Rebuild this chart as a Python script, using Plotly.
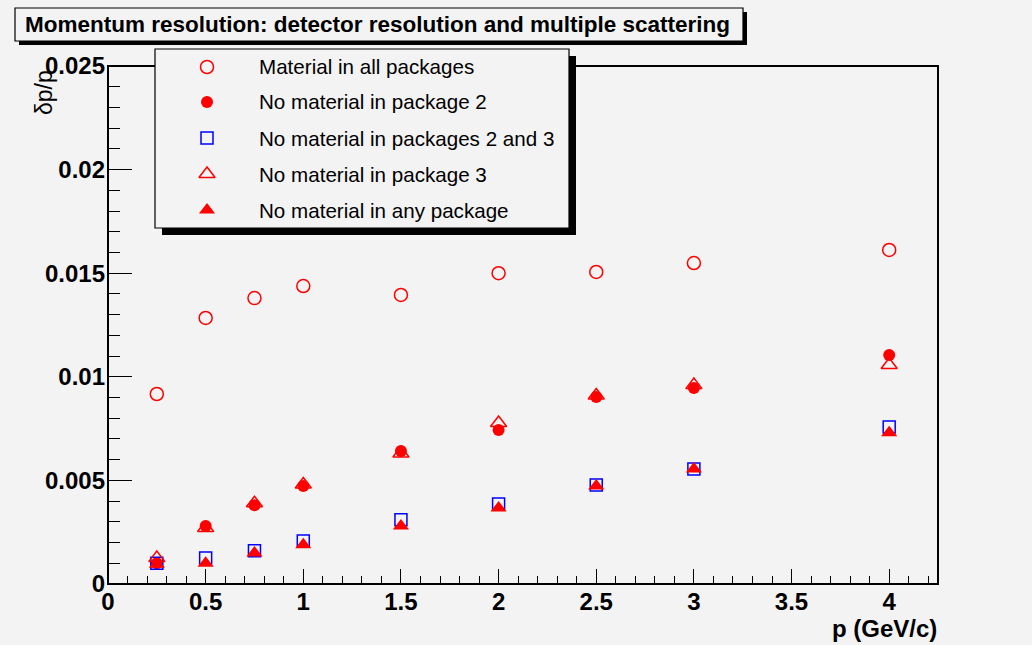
import plotly.graph_objects as go

# ---------------- data ----------------
p_values = [0.25, 0.5, 0.75, 1.0, 1.5, 2.0, 2.5, 3.0, 4.0]
material_all = [0.00917, 0.01284, 0.0138, 0.01438, 0.01395, 0.0150, 0.01506, 0.01549, 0.01612]
no_mat_pkg2 = [0.0010, 0.0028, 0.0038, 0.00473, 0.00642, 0.00743, 0.00902, 0.00946, 0.01105]
no_mat_pkg23 = [0.0010, 0.00125, 0.0016, 0.00207, 0.0031, 0.00386, 0.00478, 0.00555, 0.00758]
no_mat_pkg3 = [0.00125, 0.0027, 0.0039, 0.0048, 0.0063, 0.00777, 0.0091, 0.0096, 0.01057]
no_mat_any = [0.00095, 0.0010, 0.0015, 0.0019, 0.0028, 0.00367, 0.00473, 0.00555, 0.0073]

series_names = [
    "Material in all packages",
    "No material in package 2",
    "No material in packages 2 and 3",
    "No material in package 3",
    "No material in any package",
]
series_values = [material_all, no_mat_pkg2, no_mat_pkg23, no_mat_pkg3, no_mat_any]

title_text = "Momentum resolution: detector resolution and multiple scattering"
x_title = "p (GeV/c)"
y_title = "δp/p"

# ---------------- styles ----------------
W, H = 1032, 645
BG = "#f3f3f3"
FONT = "Liberation Sans, Arial, Helvetica, sans-serif"
styles = [
    dict(symbol="circle-open", size=13, color="#ff0000", line=dict(color="#ff0000", width=1.5)),
    dict(symbol="circle", size=12, color="#ff0000", line=dict(color="#ff0000", width=0)),
    dict(symbol="square-open", size=12, color="#0000ff", line=dict(color="#0000ff", width=1.5)),
    dict(symbol="triangle-up-open", size=14, color="#ff0000", line=dict(color="#ff0000", width=1.5)),
    dict(symbol="triangle-up", size=14, color="#ff0000", line=dict(color="#ff0000", width=0)),
]

# plot frame in pixels
FX0, FX1, FY0, FY1 = 108, 938, 66, 584


def px(x):
    return x / W


def py(y):
    return 1 - y / H


fig = go.Figure()

for name, vals, st in zip(series_names, series_values, styles):
    fig.add_trace(go.Scatter(x=p_values, y=vals, mode="markers", name=name,
                             marker=st, xaxis="x", yaxis="y", showlegend=False))

# legend markers on a pixel-coordinate helper axis
leg_rows = [67, 102, 138, 174, 210]
for name, st, ry in zip(series_names, styles, leg_rows):
    fig.add_trace(go.Scatter(x=[207], y=[ry], mode="markers", marker=st,
                             xaxis="x2", yaxis="y2", showlegend=False, hoverinfo="skip"))

shapes = []
# plot frame
shapes.append(dict(type="rect", xref="paper", yref="paper", x0=px(FX0), x1=px(FX1),
                   y0=py(FY1), y1=py(FY0), line=dict(color="black", width=2), layer="below"))
# title box shadow + box
shapes.append(dict(type="rect", xref="paper", yref="paper", x0=px(19), x1=px(747),
                   y0=py(45), y1=py(12), fillcolor="black", line=dict(width=0), layer="below"))
shapes.append(dict(type="rect", xref="paper", yref="paper", x0=px(15), x1=px(743),
                   y0=py(41), y1=py(8), fillcolor=BG, line=dict(color="black", width=1.2), layer="below"))
# legend shadow + box
shapes.append(dict(type="rect", xref="paper", yref="paper", x0=px(162), x1=px(576),
                   y0=py(235), y1=py(56), fillcolor="black", line=dict(width=0), layer="below"))
shapes.append(dict(type="rect", xref="paper", yref="paper", x0=px(155), x1=px(569),
                   y0=py(228), y1=py(49), fillcolor=BG, line=dict(color="black", width=1.2), layer="below"))

annotations = []
annotations.append(dict(text=title_text, xref="paper", yref="paper", x=px(23), y=py(25),
                        xanchor="left", yanchor="middle", showarrow=False,
                        font=dict(family=FONT, size=22.5, color="black", weight="bold")))
for name, ry in zip(series_names, leg_rows):
    annotations.append(dict(text=name, xref="paper", yref="paper", x=px(257), y=py(ry),
                            xanchor="left", yanchor="middle", showarrow=False,
                            font=dict(family=FONT, size=20.6, color="black")))
annotations.append(dict(text=x_title, xref="paper", yref="paper", x=px(939), y=py(628),
                        xanchor="right", yanchor="middle", showarrow=False,
                        font=dict(family=FONT, size=24, color="black", weight="bold")))
annotations.append(dict(text=y_title, xref="paper", yref="paper", x=px(44), y=py(93),
                        xanchor="center", yanchor="middle", showarrow=False, textangle=-90,
                        font=dict(family=FONT, size=23, color="black")))

tickfont = dict(family=FONT, size=24, color="black", weight="bold")

fig.update_layout(
    width=W, height=H,
    margin=dict(l=0, r=0, t=0, b=0, autoexpand=False),
    paper_bgcolor=BG,
    plot_bgcolor="rgba(0,0,0,0)",
    showlegend=False,
    shapes=shapes,
    annotations=annotations,
    xaxis=dict(domain=[px(FX0), px(FX1)], range=[0, 4.25], showgrid=False, zeroline=False,
               showline=False, ticks="inside", ticklen=15, tickwidth=1.2, tickcolor="black",
               tick0=0, dtick=0.5, tickfont=tickfont, anchor="y", ticklabelstandoff=1,
               automargin=False,
               minor=dict(dtick=0.1, tick0=0, ticks="inside", ticklen=8, tickwidth=1.2,
                          tickcolor="black", showgrid=False)),
    yaxis=dict(domain=[py(FY1), py(FY0)], range=[0, 0.025], showgrid=False, zeroline=False,
               showline=False, ticks="inside", ticklen=24, tickwidth=1.2, tickcolor="black",
               tick0=0, dtick=0.005, tickfont=tickfont, anchor="x", ticklabelstandoff=2,
               tickformat="~g", automargin=False,
               minor=dict(dtick=0.001, tick0=0, ticks="inside", ticklen=12, tickwidth=1.2,
                          tickcolor="black", showgrid=False)),
    xaxis2=dict(domain=[0, 1], range=[0, W], visible=False, anchor="y2", fixedrange=True,
                automargin=False),
    yaxis2=dict(domain=[0, 1], range=[H, 0], visible=False, anchor="x2", fixedrange=True,
                automargin=False),
)

fig.write_html("out.html")
